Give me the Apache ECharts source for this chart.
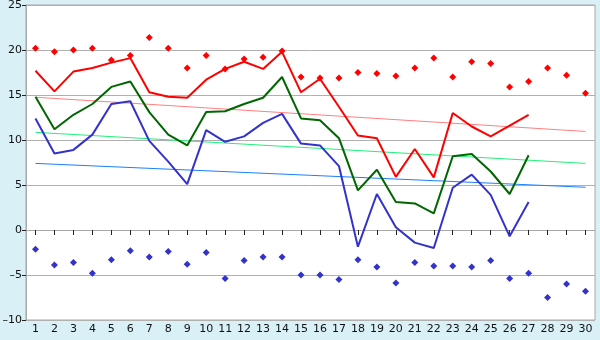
<!DOCTYPE html>
<html><head><meta charset="utf-8">
<script src="https://cdn.jsdelivr.net/npm/echarts@6/dist/echarts.min.js"></script>
<style>html,body{margin:0;padding:0;background:#d9f0f7;}#c{width:600px;height:340px;}</style>
</head><body><div id="c"></div>
<script>
const days = ['1','2','3','4','5','6','7','8','9','10','11','12','13','14','15','16','17','18','19','20','21','22','23','24','25','26','27','28','29','30'];
const maxLine = [17.7,15.4,17.6,18.0,18.6,19.1,15.3,14.8,14.7,16.7,17.9,18.7,17.9,19.8,15.3,16.8,13.7,10.5,10.2,5.9,9.0,5.85,13.0,11.5,10.4,11.6,12.8];
const avgLine = [14.8,11.2,12.8,14.0,15.9,16.5,13.1,10.6,9.4,13.1,13.2,14.0,14.7,17.0,12.4,12.2,10.2,4.4,6.7,3.1,2.95,1.85,8.2,8.45,6.5,4.0,8.3];
const minLine = [12.4,8.5,8.9,10.6,14.0,14.3,9.9,7.6,5.1,11.1,9.8,10.4,11.9,12.9,9.6,9.4,7.1,-1.85,4.0,0.3,-1.4,-2.0,4.7,6.15,3.9,-0.7,3.1];
const maxPoints = [20.2,19.8,20.0,20.2,18.9,19.4,21.4,20.2,18.0,19.4,17.9,19.0,19.2,19.9,17.0,16.9,16.9,17.5,17.4,17.1,18.0,19.1,17.0,18.7,18.5,15.9,16.5,18.0,17.2,15.2];
const minPoints = [-2.15,-3.9,-3.6,-4.8,-3.3,-2.3,-3.0,-2.4,-3.8,-2.5,-5.4,-3.4,-3.0,-3.0,-5.0,-5.0,-5.5,-3.3,-4.1,-5.9,-3.6,-4.0,-4.0,-4.1,-3.4,-5.4,-4.8,-7.5,-6.0,-6.8];
const trendMax = [14.75, 10.95];
const trendAvg = [10.85, 7.4];
const trendMin = [7.4, 4.75];
const yTicks = {min:-10, max:25, interval:5};

function trend(v){ return [[0, v[0]], [days.length-1, v[1]]]; }

const chart = echarts.init(document.getElementById('c'), null, {renderer:'canvas'});
const font = 'DejaVu Sans';
chart.setOption({
  backgroundColor: '#d9f0f7',
  animation: false,
  grid: {left: 26, right: 5, top: 5, bottom: 20, containLabel: false, outerBoundsMode: 'none', show: true, backgroundColor: '#ffffff', borderColor: '#a8a8a8', borderWidth: 1},
  xAxis: {
    type: 'category', data: days, boundaryGap: true,
    axisLine: {lineStyle: {color: '#a8a8a8', width: 1}},
    axisTick: {show: true, alignWithLabel: true, length: 5, lineStyle: {color: '#222'}},
    axisLabel: {color: '#111', fontFamily: font, fontSize: 11, margin: 4, interval: 0},
    splitLine: {show: false}
  },
  yAxis: {
    type: 'value', min: yTicks.min, max: yTicks.max, interval: yTicks.interval,
    axisLine: {show: true, lineStyle: {color: '#a8a8a8'}},
    axisTick: {show: true, length: 4, lineStyle: {color: '#222'}},
    axisLabel: {color: '#111', fontFamily: font, fontSize: 11, margin: 4, formatter: v => String(v).replace('-', '\u2013')},
    splitLine: {show: true, lineStyle: {color: '#b0b0b0', width: 1}}
  },
  series: [
    {type:'line', data: trend(trendMax), symbol:'none', lineStyle:{color:'#ff8080', width:1}, z:1},
    {type:'line', data: trend(trendAvg), symbol:'none', lineStyle:{color:'#22f07a', width:1}, z:1},
    {type:'line', data: trend(trendMin), symbol:'none', lineStyle:{color:'#1a80ff', width:1}, z:1},
    {type:'line', data: maxLine, symbol:'none', lineStyle:{color:'#ff0000', width:2}, z:3},
    {type:'line', data: avgLine, symbol:'none', lineStyle:{color:'#006600', width:2}, z:3},
    {type:'line', data: minLine, symbol:'none', lineStyle:{color:'#3333cc', width:2}, z:3},
    {type:'scatter', data: maxPoints, symbol:'diamond', symbolSize:7, itemStyle:{color:'#ff0000', opacity:1}, z:4},
    {type:'scatter', data: minPoints, symbol:'diamond', symbolSize:7, itemStyle:{color:'#3333cc', opacity:1}, z:4}
  ]
});
</script></body></html>
